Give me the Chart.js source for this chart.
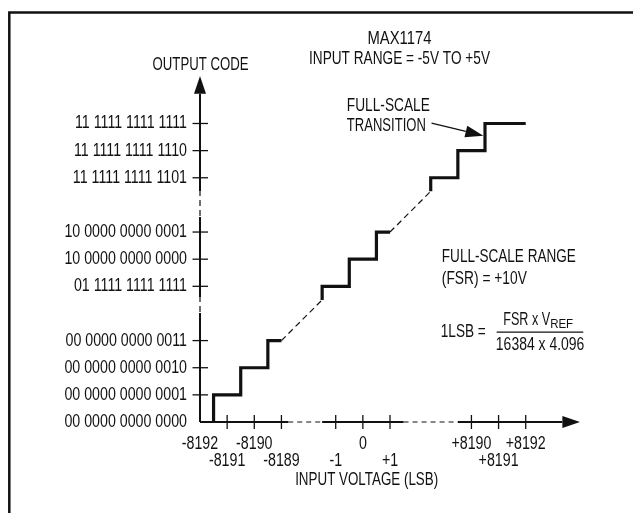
<!DOCTYPE html>
<html>
<head>
<meta charset="utf-8">
<script src="https://cdn.jsdelivr.net/npm/chart.js@4.4.1/dist/chart.umd.min.js"></script>
<style>
  html, body { margin: 0; padding: 0; background: #fff; }
  #wrap { width: 633px; height: 513px; position: relative; }
</style>
</head>
<body>
<div id="wrap"><canvas id="chart"></canvas></div>
<script>
// Broken axes: positions are in "step" units along the drawn axis
const xTickPos = [0, 1, 2, 3, 5, 6, 7, 10, 11, 12];
const xTickLabels = ['-8192', '-8191', '-8190', '-8189', '-1', '0', '+1', '+8190', '+8191', '+8192'];
const xTickRow = [0, 1, 0, 1, 1, 0, 1, 0, 1, 0];

const yTickPos = [0, 1, 2, 3, 5, 6, 7, 9, 10, 11];
const yTickLabels = [
    '00 0000 0000 0000', '00 0000 0000 0001', '00 0000 0000 0010', '00 0000 0000 0011',
    '01 1111 1111 1111', '10 0000 0000 0000', '10 0000 0000 0001',
    '11 1111 1111 1101', '11 1111 1111 1110', '11 1111 1111 1111'
];

// Transfer function (solid staircase pieces, null = break)
const stepX = [0.5, 0.5, 1.5, 1.5, 2.5, 2.5, 3, null, 4.5, 4.5, 5.5, 5.5, 6.5, 6.5, 7, null, 8.5, 8.5, 9.5, 9.5, 10.5, 10.5, 12];
const stepY = [0, 1, 1, 2, 2, 3, 3, null, 4.5, 5, 5, 6, 6, 7, 7, null, 8.5, 9, 9, 10, 10, 11, 11];
// Dashed joins between the pieces
const dashX = [3, 4.5, null, 7, 8.5];
const dashY = [3, 4.5, null, 7, 8.5];

// Axis breaks [from, to] drawn dashed
const xBreaks = [[3.25, 4.5], [7.5, 9.5]];
const yBreaks = [[4.02, 4.6], [7.55, 8.5]];
const xMax = 14, yMax = 12.75;

const FONT = '"Liberation Sans", Arial, Helvetica, sans-serif';
const FSIZE = 18;
const SQUEEZE = 0.79; // no condensed face installed, so text is narrowed
const INK = '#111';

function toPoints(xs, ys) {
    return xs.map((x, i) => ({ x: x, y: ys[i] }));
}

const labelOf = (pos, labels) => (v) => {
    const i = pos.indexOf(v);
    return i < 0 ? '' : labels[i];
};

// narrow every text drawn on the canvas (tick labels included)
const condensed = {
    id: 'condensed',
    beforeInit(chart) {
        const ctx = chart.ctx;
        const orig = ctx.fillText;
        ctx.fillText = function (t, x, y, mw) {
            if (mw === undefined) mw = this.measureText(t).width * SQUEEZE;
            return orig.call(this, t, x, y, mw);
        };
    }
};

const drawExtras = {
    id: 'drawExtras',
    afterDraw(chart) {
        const ctx = chart.ctx;
        const xs = chart.scales.x, ys = chart.scales.y;
        const px = v => xs.getPixelForValue(v);
        const py = v => ys.getPixelForValue(v);
        ctx.save();
        ctx.strokeStyle = INK;
        ctx.fillStyle = INK;

        // frame
        ctx.lineWidth = 2.5;
        ctx.beginPath();
        ctx.moveTo(9.3, 513);
        ctx.lineTo(9.3, 12.5);
        ctx.lineTo(633, 12.5);
        ctx.stroke();

        // axes with breaks
        const x0 = py(0), y0 = px(0);
        const xArrowBase = 13.35, yArrowBase = 12.1;
        const xSolid = [[0, xBreaks[0][0]], [xBreaks[0][1], xBreaks[1][0]], [xBreaks[1][1], xArrowBase]];
        const ySolid = [[0, yBreaks[0][0]], [yBreaks[0][1], yBreaks[1][0]], [yBreaks[1][1], yArrowBase]];
        ctx.lineWidth = 2;
        ctx.setLineDash([]);
        xSolid.forEach(([a, b]) => { ctx.beginPath(); ctx.moveTo(px(a), x0); ctx.lineTo(px(b), x0); ctx.stroke(); });
        ySolid.forEach(([a, b]) => { ctx.beginPath(); ctx.moveTo(y0, py(a)); ctx.lineTo(y0, py(b)); ctx.stroke(); });
        ctx.lineWidth = 1.2;
        ctx.setLineDash([5, 4]);
        xBreaks.forEach(([a, b]) => { ctx.beginPath(); ctx.moveTo(px(a), x0); ctx.lineTo(px(b), x0); ctx.stroke(); });
        ctx.setLineDash([6, 4]);
        yBreaks.forEach(([a, b]) => { ctx.beginPath(); ctx.moveTo(y0, py(a) - 1); ctx.lineTo(y0, py(b)); ctx.stroke(); });
        ctx.setLineDash([]);

        // arrow heads
        ctx.beginPath();
        ctx.moveTo(px(xMax), x0);
        ctx.lineTo(px(xArrowBase), x0 - 6);
        ctx.lineTo(px(xArrowBase), x0 + 6);
        ctx.closePath();
        ctx.fill();
        ctx.beginPath();
        ctx.moveTo(y0, py(yMax));
        ctx.lineTo(y0 - 6, py(yArrowBase));
        ctx.lineTo(y0 + 6, py(yArrowBase));
        ctx.closePath();
        ctx.fill();

        // tick marks crossing the axes
        ctx.lineWidth = 1.3;
        xTickPos.slice(1).forEach(v => { ctx.beginPath(); ctx.moveTo(px(v), x0 - 7); ctx.lineTo(px(v), x0 + 7); ctx.stroke(); });
        yTickPos.slice(1).forEach(v => { ctx.beginPath(); ctx.moveTo(y0 - 7.5, py(v)); ctx.lineTo(y0 + 8, py(v)); ctx.stroke(); });

        // texts (x, y in axis units, w = width on the page)
        ctx.font = FSIZE + 'px ' + FONT;
        ctx.textBaseline = 'middle';
        const text = (s, x, y, align, w) => { ctx.textAlign = align; ctx.fillText(s, px(x), py(y), w); };
        text('MAX1174', 7.35, 14.13, 'center', 64);
        text('INPUT RANGE = -5V TO +5V', 7.35, 13.36, 'center', 181);
        text('OUTPUT CODE', 0.02, 13.15, 'center', 96);
        text('FULL-SCALE', 5.41, 11.66, 'left', 83);
        text('TRANSITION', 5.41, 10.92, 'left', 79);
        text('FULL-SCALE RANGE', 8.91, 6.09, 'left', 134);
        text('(FSR) = +10V', 8.91, 5.26, 'left', 85);
        text('1LSB =', 8.87, 3.33, 'left', 45);
        text('16384 x 4.096', 12.53, 2.84, 'center', 88.5);
        text('INPUT VOLTAGE (LSB)', 6.14, -2.14, 'center', 143);

        // numerator with subscript
        ctx.textBaseline = 'alphabetic';
        text('FSR x V', 11.17, 3.57, 'left', 47);
        ctx.font = '13px ' + FONT;
        text('REF', 12.9, 3.48, 'left', 23);

        // fraction bar
        ctx.lineWidth = 1.3;
        ctx.beginPath();
        ctx.moveTo(px(10.93), py(3.31));
        ctx.lineTo(px(14.12), py(3.31));
        ctx.stroke();

        // full-scale transition pointer
        const ax = px(8.53), ay = py(11.01), tx = px(10.44), ty = py(10.55);
        const ang = Math.atan2(ty - ay, tx - ax);
        const hl = 18, hw = 6;
        const bx = tx - hl * Math.cos(ang), by = ty - hl * Math.sin(ang);
        ctx.beginPath();
        ctx.moveTo(ax, ay);
        ctx.lineTo(bx, by);
        ctx.stroke();
        ctx.beginPath();
        ctx.moveTo(tx, ty);
        ctx.lineTo(bx + hw * Math.sin(ang), by - hw * Math.cos(ang));
        ctx.lineTo(bx - hw * Math.sin(ang), by + hw * Math.cos(ang));
        ctx.closePath();
        ctx.fill();

        ctx.restore();
    }
};

new Chart(document.getElementById('chart'), {
    type: 'scatter',
    data: {
        datasets: [
            {
                label: 'joins',
                data: toPoints(dashX, dashY),
                showLine: true,
                spanGaps: false,
                borderColor: INK,
                borderWidth: 1.2,
                borderDash: [6, 4],
                pointRadius: 0,
                tension: 0,
                clip: false
            },
            {
                label: 'transfer function',
                data: toPoints(stepX, stepY),
                showLine: true,
                spanGaps: false,
                borderColor: INK,
                borderWidth: 3.2,
                borderJoinStyle: 'miter',
                borderCapStyle: 'butt',
                pointRadius: 0,
                tension: 0,
                clip: false
            }
        ]
    },
    options: {
        responsive: true,
        maintainAspectRatio: false,
        animation: false,
        events: [],
        layout: { padding: { left: 0, top: 76, right: 53, bottom: 0 } },
        plugins: { legend: { display: false }, tooltip: { enabled: false } },
        scales: {
            x: {
                type: 'linear',
                min: 0,
                max: xMax,
                border: { display: false },
                grid: { display: false, drawTicks: false },
                afterBuildTicks: (s) => { s.ticks = xTickPos.map(v => ({ value: v })); },
                afterFit: (s) => { s.height = 91; },
                ticks: {
                    autoSkip: false,
                    maxRotation: 0,
                    minRotation: 0,
                    padding: 14,
                    color: INK,
                    font: { family: FONT, size: FSIZE, lineHeight: 0.92 },
                    callback: (v) => {
                        const i = xTickPos.indexOf(v);
                        if (i < 0) return '';
                        return xTickRow[i] === 0 ? [xTickLabels[i], ''] : ['', xTickLabels[i]];
                    }
                }
            },
            y: {
                type: 'linear',
                min: 0,
                max: yMax,
                border: { display: false },
                grid: { display: false, drawTicks: false },
                afterBuildTicks: (s) => { s.ticks = yTickPos.map(v => ({ value: v })); },
                afterFit: (s) => { s.width = 200; },
                ticks: {
                    autoSkip: false,
                    padding: 13,
                    color: INK,
                    font: { family: FONT, size: FSIZE },
                    callback: labelOf(yTickPos, yTickLabels)
                }
            }
        }
    },
    plugins: [condensed, drawExtras]
});
</script>
</body>
</html>
